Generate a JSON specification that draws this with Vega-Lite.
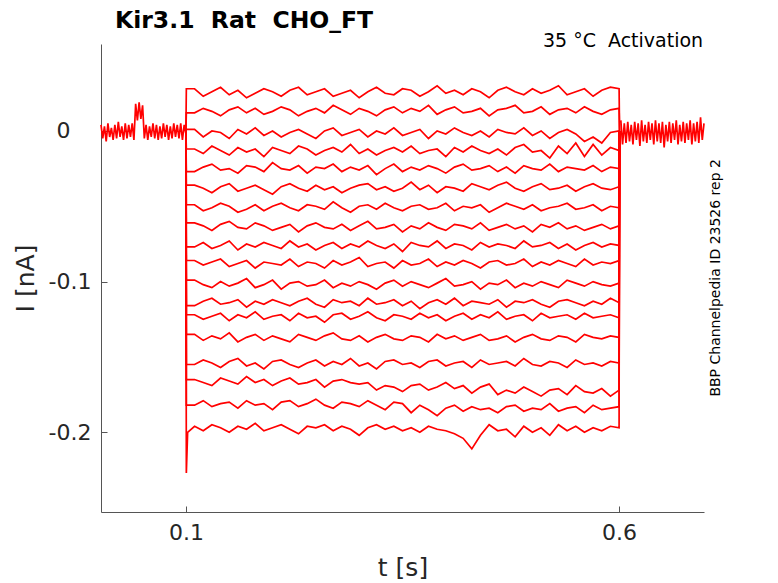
{
  "$schema": "https://vega.github.io/schema/vega-lite/v6.json",
  "description": "Kir3.1 Rat CHO_FT activation traces at 35 C, current (nA) against time (s).",
  "autosize": "none",
  "padding": {"left": 101, "top": 44, "right": 74, "bottom": 71},
  "width": 603,
  "height": 468,
  "title": {
    "text": "Kir3.1\u00a0 Rat\u00a0 CHO_FT",
    "anchor": "start",
    "frame": "group",
    "font": "DejaVu Sans",
    "fontSize": 23.5,
    "fontWeight": "bold",
    "color": "#000000",
    "baseline": "alphabetic",
    "offset": -19,
    "dx": 14
  },
  "datasets": {
    "notes": [
      {"label": "35 °C\u00a0 Activation", "t": 0.697, "i": 0.0557, "kind": "top"},
      {"label": "BBP Channelpedia ID 23526 rep 2", "t": 0.712, "i": -0.0975, "kind": "side"}
    ],
    "traces": [
      {"s":0,"t":0.002,"i":0.004},{"s":0,"t":0.004,"i":-0.005},{"s":0,"t":0.006,"i":0.003},{"s":0,"t":0.008,"i":-0.007},{"s":0,"t":0.01,"i":0.005},
      {"s":0,"t":0.012,"i":-0.004},{"s":0,"t":0.014,"i":0.002},{"s":0,"t":0.016,"i":-0.006},{"s":0,"t":0.018,"i":0.004},{"s":0,"t":0.02,"i":-0.005},
      {"s":0,"t":0.022,"i":0.006},{"s":0,"t":0.024,"i":-0.004},{"s":0,"t":0.026,"i":0.003},{"s":0,"t":0.028,"i":-0.006},{"s":0,"t":0.03,"i":0.005},
      {"s":0,"t":0.032,"i":-0.005},{"s":0,"t":0.034,"i":0.004},{"s":0,"t":0.036,"i":-0.004},{"s":0,"t":0.038,"i":0.005},{"s":0,"t":0.04,"i":-0.006},
      {"s":0,"t":0.042,"i":0.018},{"s":0,"t":0.044,"i":0.007},{"s":0,"t":0.046,"i":0.019},{"s":0,"t":0.048,"i":0.008},{"s":0,"t":0.05,"i":0.017},
      {"s":0,"t":0.052,"i":-0.005},{"s":0,"t":0.054,"i":0.004},{"s":0,"t":0.056,"i":-0.006},{"s":0,"t":0.058,"i":0.003},{"s":0,"t":0.06,"i":-0.004},
      {"s":0,"t":0.062,"i":0.005},{"s":0,"t":0.064,"i":-0.005},{"s":0,"t":0.066,"i":0.004},{"s":0,"t":0.068,"i":-0.006},{"s":0,"t":0.07,"i":0.003},
      {"s":0,"t":0.072,"i":-0.005},{"s":0,"t":0.074,"i":0.005},{"s":0,"t":0.076,"i":-0.004},{"s":0,"t":0.078,"i":0.004},{"s":0,"t":0.08,"i":-0.006},
      {"s":0,"t":0.082,"i":0.003},{"s":0,"t":0.084,"i":-0.005},{"s":0,"t":0.086,"i":0.005},{"s":0,"t":0.088,"i":-0.004},{"s":0,"t":0.09,"i":0.004},
      {"s":0,"t":0.092,"i":-0.005},{"s":0,"t":0.094,"i":0.005},{"s":0,"t":0.096,"i":-0.006},{"s":0,"t":0.098,"i":0.004},{"s":0,"t":0.1,"i":-0.002},

      {"s":19,"t":0.602,"i":0.007},{"s":19,"t":0.604,"i":-0.009},{"s":19,"t":0.606,"i":0.005},{"s":19,"t":0.608,"i":-0.008},{"s":19,"t":0.61,"i":0.006},
      {"s":19,"t":0.612,"i":-0.007},{"s":19,"t":0.614,"i":0.004},{"s":19,"t":0.616,"i":-0.009},{"s":19,"t":0.618,"i":0.006},{"s":19,"t":0.62,"i":-0.006},
      {"s":19,"t":0.622,"i":0.005},{"s":19,"t":0.624,"i":-0.01},{"s":19,"t":0.626,"i":0.007},{"s":19,"t":0.628,"i":-0.007},{"s":19,"t":0.63,"i":0.004},
      {"s":19,"t":0.632,"i":-0.008},{"s":19,"t":0.634,"i":0.006},{"s":19,"t":0.636,"i":-0.006},{"s":19,"t":0.638,"i":0.005},{"s":19,"t":0.64,"i":-0.009},
      {"s":19,"t":0.642,"i":0.007},{"s":19,"t":0.644,"i":-0.007},{"s":19,"t":0.646,"i":0.005},{"s":19,"t":0.648,"i":-0.008},{"s":19,"t":0.65,"i":0.006},
      {"s":19,"t":0.652,"i":-0.011},{"s":19,"t":0.654,"i":0.004},{"s":19,"t":0.656,"i":-0.007},{"s":19,"t":0.658,"i":0.006},{"s":19,"t":0.66,"i":-0.008},
      {"s":19,"t":0.662,"i":0.005},{"s":19,"t":0.664,"i":-0.006},{"s":19,"t":0.666,"i":0.007},{"s":19,"t":0.668,"i":-0.009},{"s":19,"t":0.67,"i":0.004},
      {"s":19,"t":0.672,"i":-0.007},{"s":19,"t":0.674,"i":0.006},{"s":19,"t":0.676,"i":-0.008},{"s":19,"t":0.678,"i":0.005},{"s":19,"t":0.68,"i":-0.006},
      {"s":19,"t":0.682,"i":0.007},{"s":19,"t":0.684,"i":-0.009},{"s":19,"t":0.686,"i":0.005},{"s":19,"t":0.688,"i":-0.007},{"s":19,"t":0.69,"i":0.006},
      {"s":19,"t":0.692,"i":-0.008},{"s":19,"t":0.694,"i":0.009},{"s":19,"t":0.696,"i":-0.006},{"s":19,"t":0.698,"i":0.005},

      {"s":1,"t":0.1,"i":0},{"s":1,"t":0.1005,"i":0.028},
      {"s":1,"t":0.11,"i":0.028},{"s":1,"t":0.12,"i":0.023},{"s":1,"t":0.13,"i":0.026},{"s":1,"t":0.14,"i":0.029},{"s":1,"t":0.15,"i":0.024},
      {"s":1,"t":0.16,"i":0.027},{"s":1,"t":0.17,"i":0.022},{"s":1,"t":0.18,"i":0.025},{"s":1,"t":0.19,"i":0.028},{"s":1,"t":0.2,"i":0.026},
      {"s":1,"t":0.21,"i":0.023},{"s":1,"t":0.22,"i":0.027},{"s":1,"t":0.23,"i":0.029},{"s":1,"t":0.24,"i":0.024},{"s":1,"t":0.25,"i":0.026},
      {"s":1,"t":0.26,"i":0.028},{"s":1,"t":0.27,"i":0.023},{"s":1,"t":0.28,"i":0.025},{"s":1,"t":0.29,"i":0.027},{"s":1,"t":0.3,"i":0.022},
      {"s":1,"t":0.31,"i":0.026},{"s":1,"t":0.32,"i":0.029},{"s":1,"t":0.33,"i":0.025},{"s":1,"t":0.34,"i":0.024},{"s":1,"t":0.35,"i":0.028},
      {"s":1,"t":0.36,"i":0.027},{"s":1,"t":0.37,"i":0.023},{"s":1,"t":0.38,"i":0.026},{"s":1,"t":0.39,"i":0.03},{"s":1,"t":0.4,"i":0.025},
      {"s":1,"t":0.41,"i":0.027},{"s":1,"t":0.42,"i":0.024},{"s":1,"t":0.43,"i":0.028},{"s":1,"t":0.44,"i":0.026},{"s":1,"t":0.45,"i":0.022},
      {"s":1,"t":0.46,"i":0.027},{"s":1,"t":0.47,"i":0.029},{"s":1,"t":0.48,"i":0.026},{"s":1,"t":0.49,"i":0.024},{"s":1,"t":0.5,"i":0.028},
      {"s":1,"t":0.51,"i":0.025},{"s":1,"t":0.52,"i":0.027},{"s":1,"t":0.53,"i":0.03},{"s":1,"t":0.54,"i":0.024},{"s":1,"t":0.55,"i":0.026},
      {"s":1,"t":0.56,"i":0.028},{"s":1,"t":0.57,"i":0.023},{"s":1,"t":0.58,"i":0.027},{"s":1,"t":0.59,"i":0.029},{"s":1,"t":0.6,"i":0.028},
      {"s":1,"t":0.6005,"i":0},

      {"s":2,"t":0.1,"i":0},{"s":2,"t":0.1005,"i":0.012},
      {"s":2,"t":0.11,"i":0.012},{"s":2,"t":0.12,"i":0.015},{"s":2,"t":0.13,"i":0.013},{"s":2,"t":0.14,"i":0.01},{"s":2,"t":0.15,"i":0.014},
      {"s":2,"t":0.16,"i":0.016},{"s":2,"t":0.17,"i":0.012},{"s":2,"t":0.18,"i":0.015},{"s":2,"t":0.19,"i":0.011},{"s":2,"t":0.2,"i":0.013},
      {"s":2,"t":0.21,"i":0.016},{"s":2,"t":0.22,"i":0.014},{"s":2,"t":0.23,"i":0.01},{"s":2,"t":0.24,"i":0.013},{"s":2,"t":0.25,"i":0.015},
      {"s":2,"t":0.26,"i":0.012},{"s":2,"t":0.27,"i":0.017},{"s":2,"t":0.28,"i":0.014},{"s":2,"t":0.29,"i":0.011},{"s":2,"t":0.3,"i":0.015},
      {"s":2,"t":0.31,"i":0.013},{"s":2,"t":0.32,"i":0.01},{"s":2,"t":0.33,"i":0.014},{"s":2,"t":0.34,"i":0.016},{"s":2,"t":0.35,"i":0.012},
      {"s":2,"t":0.36,"i":0.015},{"s":2,"t":0.37,"i":0.013},{"s":2,"t":0.38,"i":0.017},{"s":2,"t":0.39,"i":0.011},{"s":2,"t":0.4,"i":0.014},
      {"s":2,"t":0.41,"i":0.016},{"s":2,"t":0.42,"i":0.012},{"s":2,"t":0.43,"i":0.013},{"s":2,"t":0.44,"i":0.015},{"s":2,"t":0.45,"i":0.01},
      {"s":2,"t":0.46,"i":0.014},{"s":2,"t":0.47,"i":0.015},{"s":2,"t":0.48,"i":0.017},{"s":2,"t":0.49,"i":0.012},{"s":2,"t":0.5,"i":0.013},
      {"s":2,"t":0.51,"i":0.016},{"s":2,"t":0.52,"i":0.011},{"s":2,"t":0.53,"i":0.014},{"s":2,"t":0.54,"i":0.015},{"s":2,"t":0.55,"i":0.012},
      {"s":2,"t":0.56,"i":0.016},{"s":2,"t":0.57,"i":0.013},{"s":2,"t":0.58,"i":0.011},{"s":2,"t":0.59,"i":0.014},{"s":2,"t":0.6,"i":0.015},
      {"s":2,"t":0.6005,"i":0},

      {"s":3,"t":0.1,"i":0},{"s":3,"t":0.1005,"i":0.001},
      {"s":3,"t":0.11,"i":0.001},{"s":3,"t":0.12,"i":-0.004},{"s":3,"t":0.13,"i":0},{"s":3,"t":0.14,"i":-0.001},{"s":3,"t":0.15,"i":-0.005},
      {"s":3,"t":0.16,"i":0.001},{"s":3,"t":0.17,"i":-0.002},{"s":3,"t":0.18,"i":0.002},{"s":3,"t":0.19,"i":-0.003},{"s":3,"t":0.2,"i":0},
      {"s":3,"t":0.21,"i":-0.004},{"s":3,"t":0.22,"i":-0.001},{"s":3,"t":0.23,"i":0.001},{"s":3,"t":0.24,"i":-0.002},{"s":3,"t":0.25,"i":-0.005},
      {"s":3,"t":0.26,"i":0},{"s":3,"t":0.27,"i":0.002},{"s":3,"t":0.28,"i":-0.003},{"s":3,"t":0.29,"i":-0.001},{"s":3,"t":0.3,"i":0.001},
      {"s":3,"t":0.31,"i":-0.004},{"s":3,"t":0.32,"i":0},{"s":3,"t":0.33,"i":-0.002},{"s":3,"t":0.34,"i":0.002},{"s":3,"t":0.35,"i":-0.003},
      {"s":3,"t":0.36,"i":-0.001},{"s":3,"t":0.37,"i":0.001},{"s":3,"t":0.38,"i":-0.005},{"s":3,"t":0.39,"i":0},{"s":3,"t":0.4,"i":-0.002},
      {"s":3,"t":0.41,"i":0.002},{"s":3,"t":0.42,"i":-0.001},{"s":3,"t":0.43,"i":-0.003},{"s":3,"t":0.44,"i":0},{"s":3,"t":0.45,"i":-0.004},
      {"s":3,"t":0.46,"i":0.001},{"s":3,"t":0.47,"i":-0.001},{"s":3,"t":0.48,"i":-0.002},{"s":3,"t":0.49,"i":0.002},{"s":3,"t":0.5,"i":-0.003},
      {"s":3,"t":0.51,"i":0},{"s":3,"t":0.52,"i":-0.005},{"s":3,"t":0.53,"i":-0.001},{"s":3,"t":0.54,"i":0.001},{"s":3,"t":0.55,"i":-0.002},
      {"s":3,"t":0.56,"i":-0.007},{"s":3,"t":0.57,"i":-0.004},{"s":3,"t":0.58,"i":-0.008},{"s":3,"t":0.59,"i":-0.001},{"s":3,"t":0.6,"i":0},
      {"s":3,"t":0.6005,"i":0},

      {"s":4,"t":0.1,"i":0},{"s":4,"t":0.1005,"i":-0.012},
      {"s":4,"t":0.11,"i":-0.012},{"s":4,"t":0.12,"i":-0.015},{"s":4,"t":0.13,"i":-0.01},{"s":4,"t":0.14,"i":-0.013},{"s":4,"t":0.15,"i":-0.016},
      {"s":4,"t":0.16,"i":-0.011},{"s":4,"t":0.17,"i":-0.014},{"s":4,"t":0.18,"i":-0.012},{"s":4,"t":0.19,"i":-0.017},{"s":4,"t":0.2,"i":-0.011},
      {"s":4,"t":0.21,"i":-0.013},{"s":4,"t":0.22,"i":-0.015},{"s":4,"t":0.23,"i":-0.01},{"s":4,"t":0.24,"i":-0.012},{"s":4,"t":0.25,"i":-0.016},
      {"s":4,"t":0.26,"i":-0.013},{"s":4,"t":0.27,"i":-0.011},{"s":4,"t":0.28,"i":-0.014},{"s":4,"t":0.29,"i":-0.009},{"s":4,"t":0.3,"i":-0.015},
      {"s":4,"t":0.31,"i":-0.012},{"s":4,"t":0.32,"i":-0.016},{"s":4,"t":0.33,"i":-0.013},{"s":4,"t":0.34,"i":-0.011},{"s":4,"t":0.35,"i":-0.014},
      {"s":4,"t":0.36,"i":-0.01},{"s":4,"t":0.37,"i":-0.015},{"s":4,"t":0.38,"i":-0.013},{"s":4,"t":0.39,"i":-0.012},{"s":4,"t":0.4,"i":-0.017},
      {"s":4,"t":0.41,"i":-0.011},{"s":4,"t":0.42,"i":-0.014},{"s":4,"t":0.43,"i":-0.01},{"s":4,"t":0.44,"i":-0.013},{"s":4,"t":0.45,"i":-0.015},
      {"s":4,"t":0.46,"i":-0.012},{"s":4,"t":0.47,"i":-0.016},{"s":4,"t":0.48,"i":-0.011},{"s":4,"t":0.49,"i":-0.009},{"s":4,"t":0.5,"i":-0.014},
      {"s":4,"t":0.51,"i":-0.013},{"s":4,"t":0.52,"i":-0.018},{"s":4,"t":0.53,"i":-0.01},{"s":4,"t":0.54,"i":-0.015},{"s":4,"t":0.55,"i":-0.008},
      {"s":4,"t":0.56,"i":-0.017},{"s":4,"t":0.57,"i":-0.009},{"s":4,"t":0.58,"i":-0.016},{"s":4,"t":0.59,"i":-0.011},{"s":4,"t":0.6,"i":-0.013},
      {"s":4,"t":0.6005,"i":0},

      {"s":5,"t":0.1,"i":0},{"s":5,"t":0.1005,"i":-0.027},
      {"s":5,"t":0.11,"i":-0.027},{"s":5,"t":0.12,"i":-0.024},{"s":5,"t":0.13,"i":-0.022},{"s":5,"t":0.14,"i":-0.026},{"s":5,"t":0.15,"i":-0.025},
      {"s":5,"t":0.16,"i":-0.028},{"s":5,"t":0.17,"i":-0.023},{"s":5,"t":0.18,"i":-0.024},{"s":5,"t":0.19,"i":-0.027},{"s":5,"t":0.2,"i":-0.021},
      {"s":5,"t":0.21,"i":-0.025},{"s":5,"t":0.22,"i":-0.026},{"s":5,"t":0.23,"i":-0.023},{"s":5,"t":0.24,"i":-0.028},{"s":5,"t":0.25,"i":-0.024},
      {"s":5,"t":0.26,"i":-0.025},{"s":5,"t":0.27,"i":-0.022},{"s":5,"t":0.28,"i":-0.027},{"s":5,"t":0.29,"i":-0.024},{"s":5,"t":0.3,"i":-0.026},
      {"s":5,"t":0.31,"i":-0.023},{"s":5,"t":0.32,"i":-0.029},{"s":5,"t":0.33,"i":-0.025},{"s":5,"t":0.34,"i":-0.022},{"s":5,"t":0.35,"i":-0.027},
      {"s":5,"t":0.36,"i":-0.024},{"s":5,"t":0.37,"i":-0.026},{"s":5,"t":0.38,"i":-0.023},{"s":5,"t":0.39,"i":-0.025},{"s":5,"t":0.4,"i":-0.028},
      {"s":5,"t":0.41,"i":-0.024},{"s":5,"t":0.42,"i":-0.022},{"s":5,"t":0.43,"i":-0.026},{"s":5,"t":0.44,"i":-0.025},{"s":5,"t":0.45,"i":-0.023},
      {"s":5,"t":0.46,"i":-0.027},{"s":5,"t":0.47,"i":-0.024},{"s":5,"t":0.48,"i":-0.028},{"s":5,"t":0.49,"i":-0.023},{"s":5,"t":0.5,"i":-0.025},
      {"s":5,"t":0.51,"i":-0.026},{"s":5,"t":0.52,"i":-0.022},{"s":5,"t":0.53,"i":-0.027},{"s":5,"t":0.54,"i":-0.024},{"s":5,"t":0.55,"i":-0.025},
      {"s":5,"t":0.56,"i":-0.026},{"s":5,"t":0.57,"i":-0.023},{"s":5,"t":0.58,"i":-0.027},{"s":5,"t":0.59,"i":-0.024},{"s":5,"t":0.6,"i":-0.025},
      {"s":5,"t":0.6005,"i":0},

      {"s":6,"t":0.1,"i":0},{"s":6,"t":0.1005,"i":-0.036},
      {"s":6,"t":0.11,"i":-0.036},{"s":6,"t":0.12,"i":-0.038},{"s":6,"t":0.13,"i":-0.041},{"s":6,"t":0.14,"i":-0.037},{"s":6,"t":0.15,"i":-0.035},
      {"s":6,"t":0.16,"i":-0.04},{"s":6,"t":0.17,"i":-0.038},{"s":6,"t":0.18,"i":-0.036},{"s":6,"t":0.19,"i":-0.039},{"s":6,"t":0.2,"i":-0.042},
      {"s":6,"t":0.21,"i":-0.037},{"s":6,"t":0.22,"i":-0.035},{"s":6,"t":0.23,"i":-0.038},{"s":6,"t":0.24,"i":-0.04},{"s":6,"t":0.25,"i":-0.036},
      {"s":6,"t":0.26,"i":-0.039},{"s":6,"t":0.27,"i":-0.037},{"s":6,"t":0.28,"i":-0.041},{"s":6,"t":0.29,"i":-0.038},{"s":6,"t":0.3,"i":-0.036},
      {"s":6,"t":0.31,"i":-0.035},{"s":6,"t":0.32,"i":-0.039},{"s":6,"t":0.33,"i":-0.037},{"s":6,"t":0.34,"i":-0.04},{"s":6,"t":0.35,"i":-0.038},
      {"s":6,"t":0.36,"i":-0.034},{"s":6,"t":0.37,"i":-0.039},{"s":6,"t":0.38,"i":-0.036},{"s":6,"t":0.39,"i":-0.041},{"s":6,"t":0.4,"i":-0.037},
      {"s":6,"t":0.41,"i":-0.038},{"s":6,"t":0.42,"i":-0.04},{"s":6,"t":0.43,"i":-0.035},{"s":6,"t":0.44,"i":-0.037},{"s":6,"t":0.45,"i":-0.039},
      {"s":6,"t":0.46,"i":-0.036},{"s":6,"t":0.47,"i":-0.034},{"s":6,"t":0.48,"i":-0.038},{"s":6,"t":0.49,"i":-0.04},{"s":6,"t":0.5,"i":-0.037},
      {"s":6,"t":0.51,"i":-0.035},{"s":6,"t":0.52,"i":-0.039},{"s":6,"t":0.53,"i":-0.038},{"s":6,"t":0.54,"i":-0.036},{"s":6,"t":0.55,"i":-0.04},
      {"s":6,"t":0.56,"i":-0.037},{"s":6,"t":0.57,"i":-0.035},{"s":6,"t":0.58,"i":-0.038},{"s":6,"t":0.59,"i":-0.039},{"s":6,"t":0.6,"i":-0.037},
      {"s":6,"t":0.6005,"i":0},

      {"s":7,"t":0.1,"i":0},{"s":7,"t":0.1005,"i":-0.049},
      {"s":7,"t":0.11,"i":-0.049},{"s":7,"t":0.12,"i":-0.053},{"s":7,"t":0.13,"i":-0.051},{"s":7,"t":0.14,"i":-0.048},{"s":7,"t":0.15,"i":-0.05},
      {"s":7,"t":0.16,"i":-0.054},{"s":7,"t":0.17,"i":-0.052},{"s":7,"t":0.18,"i":-0.049},{"s":7,"t":0.19,"i":-0.053},{"s":7,"t":0.2,"i":-0.05},
      {"s":7,"t":0.21,"i":-0.048},{"s":7,"t":0.22,"i":-0.051},{"s":7,"t":0.23,"i":-0.053},{"s":7,"t":0.24,"i":-0.049},{"s":7,"t":0.25,"i":-0.05},
      {"s":7,"t":0.26,"i":-0.052},{"s":7,"t":0.27,"i":-0.047},{"s":7,"t":0.28,"i":-0.051},{"s":7,"t":0.29,"i":-0.054},{"s":7,"t":0.3,"i":-0.05},
      {"s":7,"t":0.31,"i":-0.049},{"s":7,"t":0.32,"i":-0.052},{"s":7,"t":0.33,"i":-0.048},{"s":7,"t":0.34,"i":-0.051},{"s":7,"t":0.35,"i":-0.053},
      {"s":7,"t":0.36,"i":-0.05},{"s":7,"t":0.37,"i":-0.049},{"s":7,"t":0.38,"i":-0.052},{"s":7,"t":0.39,"i":-0.051},{"s":7,"t":0.4,"i":-0.048},
      {"s":7,"t":0.41,"i":-0.053},{"s":7,"t":0.42,"i":-0.05},{"s":7,"t":0.43,"i":-0.051},{"s":7,"t":0.44,"i":-0.049},{"s":7,"t":0.45,"i":-0.054},
      {"s":7,"t":0.46,"i":-0.051},{"s":7,"t":0.47,"i":-0.048},{"s":7,"t":0.48,"i":-0.05},{"s":7,"t":0.49,"i":-0.052},{"s":7,"t":0.5,"i":-0.049},
      {"s":7,"t":0.51,"i":-0.053},{"s":7,"t":0.52,"i":-0.051},{"s":7,"t":0.53,"i":-0.05},{"s":7,"t":0.54,"i":-0.048},{"s":7,"t":0.55,"i":-0.052},
      {"s":7,"t":0.56,"i":-0.051},{"s":7,"t":0.57,"i":-0.049},{"s":7,"t":0.58,"i":-0.053},{"s":7,"t":0.59,"i":-0.05},{"s":7,"t":0.6,"i":-0.051},
      {"s":7,"t":0.6005,"i":0},

      {"s":8,"t":0.1,"i":0},{"s":8,"t":0.1005,"i":-0.061},
      {"s":8,"t":0.11,"i":-0.061},{"s":8,"t":0.12,"i":-0.063},{"s":8,"t":0.13,"i":-0.066},{"s":8,"t":0.14,"i":-0.062},{"s":8,"t":0.15,"i":-0.06},
      {"s":8,"t":0.16,"i":-0.064},{"s":8,"t":0.17,"i":-0.065},{"s":8,"t":0.18,"i":-0.061},{"s":8,"t":0.19,"i":-0.063},{"s":8,"t":0.2,"i":-0.066},
      {"s":8,"t":0.21,"i":-0.064},{"s":8,"t":0.22,"i":-0.062},{"s":8,"t":0.23,"i":-0.067},{"s":8,"t":0.24,"i":-0.063},{"s":8,"t":0.25,"i":-0.061},
      {"s":8,"t":0.26,"i":-0.064},{"s":8,"t":0.27,"i":-0.065},{"s":8,"t":0.28,"i":-0.062},{"s":8,"t":0.29,"i":-0.066},{"s":8,"t":0.3,"i":-0.063},
      {"s":8,"t":0.31,"i":-0.06},{"s":8,"t":0.32,"i":-0.065},{"s":8,"t":0.33,"i":-0.064},{"s":8,"t":0.34,"i":-0.062},{"s":8,"t":0.35,"i":-0.067},
      {"s":8,"t":0.36,"i":-0.063},{"s":8,"t":0.37,"i":-0.065},{"s":8,"t":0.38,"i":-0.061},{"s":8,"t":0.39,"i":-0.064},{"s":8,"t":0.4,"i":-0.066},
      {"s":8,"t":0.41,"i":-0.062},{"s":8,"t":0.42,"i":-0.063},{"s":8,"t":0.43,"i":-0.065},{"s":8,"t":0.44,"i":-0.061},{"s":8,"t":0.45,"i":-0.066},
      {"s":8,"t":0.46,"i":-0.064},{"s":8,"t":0.47,"i":-0.062},{"s":8,"t":0.48,"i":-0.065},{"s":8,"t":0.49,"i":-0.063},{"s":8,"t":0.5,"i":-0.067},
      {"s":8,"t":0.51,"i":-0.062},{"s":8,"t":0.52,"i":-0.064},{"s":8,"t":0.53,"i":-0.061},{"s":8,"t":0.54,"i":-0.065},{"s":8,"t":0.55,"i":-0.063},
      {"s":8,"t":0.56,"i":-0.066},{"s":8,"t":0.57,"i":-0.064},{"s":8,"t":0.58,"i":-0.062},{"s":8,"t":0.59,"i":-0.065},{"s":8,"t":0.6,"i":-0.063},
      {"s":8,"t":0.6005,"i":0},

      {"s":9,"t":0.1,"i":0},{"s":9,"t":0.1005,"i":-0.077},
      {"s":9,"t":0.11,"i":-0.077},{"s":9,"t":0.12,"i":-0.074},{"s":9,"t":0.13,"i":-0.078},{"s":9,"t":0.14,"i":-0.076},{"s":9,"t":0.15,"i":-0.073},
      {"s":9,"t":0.16,"i":-0.079},{"s":9,"t":0.17,"i":-0.075},{"s":9,"t":0.18,"i":-0.077},{"s":9,"t":0.19,"i":-0.074},{"s":9,"t":0.2,"i":-0.076},
      {"s":9,"t":0.21,"i":-0.078},{"s":9,"t":0.22,"i":-0.073},{"s":9,"t":0.23,"i":-0.077},{"s":9,"t":0.24,"i":-0.075},{"s":9,"t":0.25,"i":-0.079},
      {"s":9,"t":0.26,"i":-0.076},{"s":9,"t":0.27,"i":-0.074},{"s":9,"t":0.28,"i":-0.078},{"s":9,"t":0.29,"i":-0.075},{"s":9,"t":0.3,"i":-0.077},
      {"s":9,"t":0.31,"i":-0.073},{"s":9,"t":0.32,"i":-0.076},{"s":9,"t":0.33,"i":-0.078},{"s":9,"t":0.34,"i":-0.075},{"s":9,"t":0.35,"i":-0.08},
      {"s":9,"t":0.36,"i":-0.074},{"s":9,"t":0.37,"i":-0.076},{"s":9,"t":0.38,"i":-0.077},{"s":9,"t":0.39,"i":-0.073},{"s":9,"t":0.4,"i":-0.078},
      {"s":9,"t":0.41,"i":-0.075},{"s":9,"t":0.42,"i":-0.076},{"s":9,"t":0.43,"i":-0.079},{"s":9,"t":0.44,"i":-0.074},{"s":9,"t":0.45,"i":-0.077},
      {"s":9,"t":0.46,"i":-0.075},{"s":9,"t":0.47,"i":-0.076},{"s":9,"t":0.48,"i":-0.078},{"s":9,"t":0.49,"i":-0.073},{"s":9,"t":0.5,"i":-0.077},
      {"s":9,"t":0.51,"i":-0.076},{"s":9,"t":0.52,"i":-0.074},{"s":9,"t":0.53,"i":-0.078},{"s":9,"t":0.54,"i":-0.075},{"s":9,"t":0.55,"i":-0.079},
      {"s":9,"t":0.56,"i":-0.076},{"s":9,"t":0.57,"i":-0.074},{"s":9,"t":0.58,"i":-0.077},{"s":9,"t":0.59,"i":-0.075},{"s":9,"t":0.6,"i":-0.076},
      {"s":9,"t":0.6005,"i":0},

      {"s":10,"t":0.1,"i":0},{"s":10,"t":0.1005,"i":-0.086},
      {"s":10,"t":0.11,"i":-0.086},{"s":10,"t":0.12,"i":-0.089},{"s":10,"t":0.13,"i":-0.087},{"s":10,"t":0.14,"i":-0.085},{"s":10,"t":0.15,"i":-0.09},
      {"s":10,"t":0.16,"i":-0.088},{"s":10,"t":0.17,"i":-0.086},{"s":10,"t":0.18,"i":-0.091},{"s":10,"t":0.19,"i":-0.087},{"s":10,"t":0.2,"i":-0.088},
      {"s":10,"t":0.21,"i":-0.089},{"s":10,"t":0.22,"i":-0.085},{"s":10,"t":0.23,"i":-0.09},{"s":10,"t":0.24,"i":-0.087},{"s":10,"t":0.25,"i":-0.088},
      {"s":10,"t":0.26,"i":-0.091},{"s":10,"t":0.27,"i":-0.086},{"s":10,"t":0.28,"i":-0.089},{"s":10,"t":0.29,"i":-0.087},{"s":10,"t":0.3,"i":-0.084},
      {"s":10,"t":0.31,"i":-0.09},{"s":10,"t":0.32,"i":-0.088},{"s":10,"t":0.33,"i":-0.087},{"s":10,"t":0.34,"i":-0.091},{"s":10,"t":0.35,"i":-0.086},
      {"s":10,"t":0.36,"i":-0.089},{"s":10,"t":0.37,"i":-0.088},{"s":10,"t":0.38,"i":-0.085},{"s":10,"t":0.39,"i":-0.09},{"s":10,"t":0.4,"i":-0.087},
      {"s":10,"t":0.41,"i":-0.089},{"s":10,"t":0.42,"i":-0.086},{"s":10,"t":0.43,"i":-0.088},{"s":10,"t":0.44,"i":-0.091},{"s":10,"t":0.45,"i":-0.087},
      {"s":10,"t":0.46,"i":-0.086},{"s":10,"t":0.47,"i":-0.089},{"s":10,"t":0.48,"i":-0.088},{"s":10,"t":0.49,"i":-0.085},{"s":10,"t":0.5,"i":-0.09},
      {"s":10,"t":0.51,"i":-0.087},{"s":10,"t":0.52,"i":-0.089},{"s":10,"t":0.53,"i":-0.086},{"s":10,"t":0.54,"i":-0.088},{"s":10,"t":0.55,"i":-0.09},
      {"s":10,"t":0.56,"i":-0.085},{"s":10,"t":0.57,"i":-0.089},{"s":10,"t":0.58,"i":-0.087},{"s":10,"t":0.59,"i":-0.088},{"s":10,"t":0.6,"i":-0.086},
      {"s":10,"t":0.6005,"i":0},

      {"s":11,"t":0.1,"i":0},{"s":11,"t":0.1005,"i":-0.099},
      {"s":11,"t":0.11,"i":-0.099},{"s":11,"t":0.12,"i":-0.102},{"s":11,"t":0.13,"i":-0.104},{"s":11,"t":0.14,"i":-0.1},{"s":11,"t":0.15,"i":-0.103},
      {"s":11,"t":0.16,"i":-0.101},{"s":11,"t":0.17,"i":-0.098},{"s":11,"t":0.18,"i":-0.104},{"s":11,"t":0.19,"i":-0.102},{"s":11,"t":0.2,"i":-0.099},
      {"s":11,"t":0.21,"i":-0.105},{"s":11,"t":0.22,"i":-0.101},{"s":11,"t":0.23,"i":-0.1},{"s":11,"t":0.24,"i":-0.103},{"s":11,"t":0.25,"i":-0.102},
      {"s":11,"t":0.26,"i":-0.099},{"s":11,"t":0.27,"i":-0.104},{"s":11,"t":0.28,"i":-0.101},{"s":11,"t":0.29,"i":-0.103},{"s":11,"t":0.3,"i":-0.1},
      {"s":11,"t":0.31,"i":-0.102},{"s":11,"t":0.32,"i":-0.105},{"s":11,"t":0.33,"i":-0.101},{"s":11,"t":0.34,"i":-0.099},{"s":11,"t":0.35,"i":-0.103},
      {"s":11,"t":0.36,"i":-0.1},{"s":11,"t":0.37,"i":-0.102},{"s":11,"t":0.38,"i":-0.104},{"s":11,"t":0.39,"i":-0.101},{"s":11,"t":0.4,"i":-0.098},
      {"s":11,"t":0.41,"i":-0.103},{"s":11,"t":0.42,"i":-0.102},{"s":11,"t":0.43,"i":-0.1},{"s":11,"t":0.44,"i":-0.105},{"s":11,"t":0.45,"i":-0.101},
      {"s":11,"t":0.46,"i":-0.102},{"s":11,"t":0.47,"i":-0.099},{"s":11,"t":0.48,"i":-0.104},{"s":11,"t":0.49,"i":-0.101},{"s":11,"t":0.5,"i":-0.103},
      {"s":11,"t":0.51,"i":-0.1},{"s":11,"t":0.52,"i":-0.102},{"s":11,"t":0.53,"i":-0.104},{"s":11,"t":0.54,"i":-0.099},{"s":11,"t":0.55,"i":-0.101},
      {"s":11,"t":0.56,"i":-0.103},{"s":11,"t":0.57,"i":-0.1},{"s":11,"t":0.58,"i":-0.102},{"s":11,"t":0.59,"i":-0.103},{"s":11,"t":0.6,"i":-0.101},
      {"s":11,"t":0.6005,"i":0},

      {"s":12,"t":0.1,"i":0},{"s":12,"t":0.1005,"i":-0.116},
      {"s":12,"t":0.11,"i":-0.116},{"s":12,"t":0.12,"i":-0.113},{"s":12,"t":0.13,"i":-0.111},{"s":12,"t":0.14,"i":-0.115},{"s":12,"t":0.15,"i":-0.114},
      {"s":12,"t":0.16,"i":-0.112},{"s":12,"t":0.17,"i":-0.117},{"s":12,"t":0.18,"i":-0.113},{"s":12,"t":0.19,"i":-0.115},{"s":12,"t":0.2,"i":-0.112},
      {"s":12,"t":0.21,"i":-0.114},{"s":12,"t":0.22,"i":-0.116},{"s":12,"t":0.23,"i":-0.113},{"s":12,"t":0.24,"i":-0.111},{"s":12,"t":0.25,"i":-0.115},
      {"s":12,"t":0.26,"i":-0.117},{"s":12,"t":0.27,"i":-0.112},{"s":12,"t":0.28,"i":-0.114},{"s":12,"t":0.29,"i":-0.113},{"s":12,"t":0.3,"i":-0.116},
      {"s":12,"t":0.31,"i":-0.111},{"s":12,"t":0.32,"i":-0.115},{"s":12,"t":0.33,"i":-0.114},{"s":12,"t":0.34,"i":-0.112},{"s":12,"t":0.35,"i":-0.116},
      {"s":12,"t":0.36,"i":-0.113},{"s":12,"t":0.37,"i":-0.118},{"s":12,"t":0.38,"i":-0.114},{"s":12,"t":0.39,"i":-0.112},{"s":12,"t":0.4,"i":-0.115},
      {"s":12,"t":0.41,"i":-0.111},{"s":12,"t":0.42,"i":-0.116},{"s":12,"t":0.43,"i":-0.113},{"s":12,"t":0.44,"i":-0.114},{"s":12,"t":0.45,"i":-0.115},
      {"s":12,"t":0.46,"i":-0.112},{"s":12,"t":0.47,"i":-0.117},{"s":12,"t":0.48,"i":-0.113},{"s":12,"t":0.49,"i":-0.114},{"s":12,"t":0.5,"i":-0.112},
      {"s":12,"t":0.51,"i":-0.115},{"s":12,"t":0.52,"i":-0.117},{"s":12,"t":0.53,"i":-0.113},{"s":12,"t":0.54,"i":-0.112},{"s":12,"t":0.55,"i":-0.114},
      {"s":12,"t":0.56,"i":-0.116},{"s":12,"t":0.57,"i":-0.113},{"s":12,"t":0.58,"i":-0.115},{"s":12,"t":0.59,"i":-0.111},{"s":12,"t":0.6,"i":-0.114},
      {"s":12,"t":0.6005,"i":0},

      {"s":13,"t":0.1,"i":0},{"s":13,"t":0.1005,"i":-0.122},
      {"s":13,"t":0.11,"i":-0.122},{"s":13,"t":0.12,"i":-0.125},{"s":13,"t":0.13,"i":-0.123},{"s":13,"t":0.14,"i":-0.121},{"s":13,"t":0.15,"i":-0.126},
      {"s":13,"t":0.16,"i":-0.122},{"s":13,"t":0.17,"i":-0.124},{"s":13,"t":0.18,"i":-0.12},{"s":13,"t":0.19,"i":-0.125},{"s":13,"t":0.2,"i":-0.123},
      {"s":13,"t":0.21,"i":-0.122},{"s":13,"t":0.22,"i":-0.126},{"s":13,"t":0.23,"i":-0.121},{"s":13,"t":0.24,"i":-0.124},{"s":13,"t":0.25,"i":-0.123},
      {"s":13,"t":0.26,"i":-0.127},{"s":13,"t":0.27,"i":-0.122},{"s":13,"t":0.28,"i":-0.121},{"s":13,"t":0.29,"i":-0.125},{"s":13,"t":0.3,"i":-0.123},
      {"s":13,"t":0.31,"i":-0.12},{"s":13,"t":0.32,"i":-0.124},{"s":13,"t":0.33,"i":-0.126},{"s":13,"t":0.34,"i":-0.122},{"s":13,"t":0.35,"i":-0.123},
      {"s":13,"t":0.36,"i":-0.125},{"s":13,"t":0.37,"i":-0.121},{"s":13,"t":0.38,"i":-0.124},{"s":13,"t":0.39,"i":-0.122},{"s":13,"t":0.4,"i":-0.126},
      {"s":13,"t":0.41,"i":-0.123},{"s":13,"t":0.42,"i":-0.121},{"s":13,"t":0.43,"i":-0.125},{"s":13,"t":0.44,"i":-0.122},{"s":13,"t":0.45,"i":-0.124},
      {"s":13,"t":0.46,"i":-0.12},{"s":13,"t":0.47,"i":-0.125},{"s":13,"t":0.48,"i":-0.123},{"s":13,"t":0.49,"i":-0.122},{"s":13,"t":0.5,"i":-0.126},
      {"s":13,"t":0.51,"i":-0.121},{"s":13,"t":0.52,"i":-0.124},{"s":13,"t":0.53,"i":-0.123},{"s":13,"t":0.54,"i":-0.122},{"s":13,"t":0.55,"i":-0.125},
      {"s":13,"t":0.56,"i":-0.121},{"s":13,"t":0.57,"i":-0.124},{"s":13,"t":0.58,"i":-0.123},{"s":13,"t":0.59,"i":-0.122},{"s":13,"t":0.6,"i":-0.124},
      {"s":13,"t":0.6005,"i":0},

      {"s":14,"t":0.1,"i":0},{"s":14,"t":0.1005,"i":-0.135},
      {"s":14,"t":0.11,"i":-0.135},{"s":14,"t":0.12,"i":-0.139},{"s":14,"t":0.13,"i":-0.136},{"s":14,"t":0.14,"i":-0.138},{"s":14,"t":0.15,"i":-0.134},
      {"s":14,"t":0.16,"i":-0.14},{"s":14,"t":0.17,"i":-0.137},{"s":14,"t":0.18,"i":-0.135},{"s":14,"t":0.19,"i":-0.139},{"s":14,"t":0.2,"i":-0.136},
      {"s":14,"t":0.21,"i":-0.138},{"s":14,"t":0.22,"i":-0.14},{"s":14,"t":0.23,"i":-0.135},{"s":14,"t":0.24,"i":-0.137},{"s":14,"t":0.25,"i":-0.139},
      {"s":14,"t":0.26,"i":-0.136},{"s":14,"t":0.27,"i":-0.134},{"s":14,"t":0.28,"i":-0.138},{"s":14,"t":0.29,"i":-0.139},{"s":14,"t":0.3,"i":-0.136},
      {"s":14,"t":0.31,"i":-0.14},{"s":14,"t":0.32,"i":-0.137},{"s":14,"t":0.33,"i":-0.135},{"s":14,"t":0.34,"i":-0.138},{"s":14,"t":0.35,"i":-0.139},
      {"s":14,"t":0.36,"i":-0.136},{"s":14,"t":0.37,"i":-0.137},{"s":14,"t":0.38,"i":-0.14},{"s":14,"t":0.39,"i":-0.135},{"s":14,"t":0.4,"i":-0.138},
      {"s":14,"t":0.41,"i":-0.136},{"s":14,"t":0.42,"i":-0.139},{"s":14,"t":0.43,"i":-0.137},{"s":14,"t":0.44,"i":-0.135},{"s":14,"t":0.45,"i":-0.139},
      {"s":14,"t":0.46,"i":-0.138},{"s":14,"t":0.47,"i":-0.136},{"s":14,"t":0.48,"i":-0.14},{"s":14,"t":0.49,"i":-0.137},{"s":14,"t":0.5,"i":-0.135},
      {"s":14,"t":0.51,"i":-0.138},{"s":14,"t":0.52,"i":-0.139},{"s":14,"t":0.53,"i":-0.136},{"s":14,"t":0.54,"i":-0.137},{"s":14,"t":0.55,"i":-0.14},
      {"s":14,"t":0.56,"i":-0.135},{"s":14,"t":0.57,"i":-0.137},{"s":14,"t":0.58,"i":-0.138},{"s":14,"t":0.59,"i":-0.136},{"s":14,"t":0.6,"i":-0.137},
      {"s":14,"t":0.6005,"i":0},

      {"s":15,"t":0.1,"i":0},{"s":15,"t":0.1005,"i":-0.155},
      {"s":15,"t":0.11,"i":-0.155},{"s":15,"t":0.12,"i":-0.152},{"s":15,"t":0.13,"i":-0.154},{"s":15,"t":0.14,"i":-0.157},{"s":15,"t":0.15,"i":-0.153},
      {"s":15,"t":0.16,"i":-0.151},{"s":15,"t":0.17,"i":-0.156},{"s":15,"t":0.18,"i":-0.154},{"s":15,"t":0.19,"i":-0.158},{"s":15,"t":0.2,"i":-0.153},
      {"s":15,"t":0.21,"i":-0.152},{"s":15,"t":0.22,"i":-0.155},{"s":15,"t":0.23,"i":-0.157},{"s":15,"t":0.24,"i":-0.154},{"s":15,"t":0.25,"i":-0.152},
      {"s":15,"t":0.26,"i":-0.156},{"s":15,"t":0.27,"i":-0.153},{"s":15,"t":0.28,"i":-0.155},{"s":15,"t":0.29,"i":-0.151},{"s":15,"t":0.3,"i":-0.156},
      {"s":15,"t":0.31,"i":-0.154},{"s":15,"t":0.32,"i":-0.158},{"s":15,"t":0.33,"i":-0.153},{"s":15,"t":0.34,"i":-0.152},{"s":15,"t":0.35,"i":-0.155},
      {"s":15,"t":0.36,"i":-0.154},{"s":15,"t":0.37,"i":-0.157},{"s":15,"t":0.38,"i":-0.153},{"s":15,"t":0.39,"i":-0.152},{"s":15,"t":0.4,"i":-0.156},
      {"s":15,"t":0.41,"i":-0.154},{"s":15,"t":0.42,"i":-0.153},{"s":15,"t":0.43,"i":-0.157},{"s":15,"t":0.44,"i":-0.152},{"s":15,"t":0.45,"i":-0.155},
      {"s":15,"t":0.46,"i":-0.154},{"s":15,"t":0.47,"i":-0.153},{"s":15,"t":0.48,"i":-0.156},{"s":15,"t":0.49,"i":-0.151},{"s":15,"t":0.5,"i":-0.155},
      {"s":15,"t":0.51,"i":-0.156},{"s":15,"t":0.52,"i":-0.153},{"s":15,"t":0.53,"i":-0.154},{"s":15,"t":0.54,"i":-0.157},{"s":15,"t":0.55,"i":-0.152},
      {"s":15,"t":0.56,"i":-0.155},{"s":15,"t":0.57,"i":-0.154},{"s":15,"t":0.58,"i":-0.156},{"s":15,"t":0.59,"i":-0.153},{"s":15,"t":0.6,"i":-0.154},
      {"s":15,"t":0.6005,"i":0},

      {"s":16,"t":0.1,"i":0},{"s":16,"t":0.1005,"i":-0.165},
      {"s":16,"t":0.11,"i":-0.165},{"s":16,"t":0.12,"i":-0.167},{"s":16,"t":0.13,"i":-0.169},{"s":16,"t":0.14,"i":-0.164},{"s":16,"t":0.15,"i":-0.166},
      {"s":16,"t":0.16,"i":-0.168},{"s":16,"t":0.17,"i":-0.163},{"s":16,"t":0.18,"i":-0.167},{"s":16,"t":0.19,"i":-0.165},{"s":16,"t":0.2,"i":-0.169},
      {"s":16,"t":0.21,"i":-0.166},{"s":16,"t":0.22,"i":-0.164},{"s":16,"t":0.23,"i":-0.168},{"s":16,"t":0.24,"i":-0.167},{"s":16,"t":0.25,"i":-0.165},
      {"s":16,"t":0.26,"i":-0.17},{"s":16,"t":0.27,"i":-0.166},{"s":16,"t":0.28,"i":-0.165},{"s":16,"t":0.29,"i":-0.167},{"s":16,"t":0.3,"i":-0.168},
      {"s":16,"t":0.31,"i":-0.167},{"s":16,"t":0.32,"i":-0.172},{"s":16,"t":0.33,"i":-0.169},{"s":16,"t":0.34,"i":-0.17},{"s":16,"t":0.35,"i":-0.173},
      {"s":16,"t":0.36,"i":-0.169},{"s":16,"t":0.37,"i":-0.168},{"s":16,"t":0.38,"i":-0.172},{"s":16,"t":0.39,"i":-0.17},{"s":16,"t":0.4,"i":-0.167},
      {"s":16,"t":0.41,"i":-0.171},{"s":16,"t":0.42,"i":-0.169},{"s":16,"t":0.43,"i":-0.174},{"s":16,"t":0.44,"i":-0.17},{"s":16,"t":0.45,"i":-0.168},
      {"s":16,"t":0.46,"i":-0.175},{"s":16,"t":0.47,"i":-0.172},{"s":16,"t":0.48,"i":-0.174},{"s":16,"t":0.49,"i":-0.17},{"s":16,"t":0.5,"i":-0.173},
      {"s":16,"t":0.51,"i":-0.176},{"s":16,"t":0.52,"i":-0.172},{"s":16,"t":0.53,"i":-0.171},{"s":16,"t":0.54,"i":-0.175},{"s":16,"t":0.55,"i":-0.169},
      {"s":16,"t":0.56,"i":-0.173},{"s":16,"t":0.57,"i":-0.174},{"s":16,"t":0.58,"i":-0.171},{"s":16,"t":0.59,"i":-0.176},{"s":16,"t":0.6,"i":-0.172},
      {"s":16,"t":0.6005,"i":0},

      {"s":17,"t":0.1,"i":0},{"s":17,"t":0.1005,"i":-0.182},
      {"s":17,"t":0.11,"i":-0.182},{"s":17,"t":0.12,"i":-0.179},{"s":17,"t":0.13,"i":-0.183},{"s":17,"t":0.14,"i":-0.181},{"s":17,"t":0.15,"i":-0.18},
      {"s":17,"t":0.16,"i":-0.184},{"s":17,"t":0.17,"i":-0.179},{"s":17,"t":0.18,"i":-0.182},{"s":17,"t":0.19,"i":-0.181},{"s":17,"t":0.2,"i":-0.185},
      {"s":17,"t":0.21,"i":-0.18},{"s":17,"t":0.22,"i":-0.179},{"s":17,"t":0.23,"i":-0.183},{"s":17,"t":0.24,"i":-0.181},{"s":17,"t":0.25,"i":-0.178},
      {"s":17,"t":0.26,"i":-0.182},{"s":17,"t":0.27,"i":-0.184},{"s":17,"t":0.28,"i":-0.18},{"s":17,"t":0.29,"i":-0.181},{"s":17,"t":0.3,"i":-0.183},
      {"s":17,"t":0.31,"i":-0.179},{"s":17,"t":0.32,"i":-0.182},{"s":17,"t":0.33,"i":-0.185},{"s":17,"t":0.34,"i":-0.18},{"s":17,"t":0.35,"i":-0.181},
      {"s":17,"t":0.36,"i":-0.187},{"s":17,"t":0.37,"i":-0.182},{"s":17,"t":0.38,"i":-0.185},{"s":17,"t":0.39,"i":-0.189},{"s":17,"t":0.4,"i":-0.184},
      {"s":17,"t":0.41,"i":-0.182},{"s":17,"t":0.42,"i":-0.186},{"s":17,"t":0.43,"i":-0.183},{"s":17,"t":0.44,"i":-0.185},{"s":17,"t":0.45,"i":-0.184},
      {"s":17,"t":0.46,"i":-0.187},{"s":17,"t":0.47,"i":-0.183},{"s":17,"t":0.48,"i":-0.182},{"s":17,"t":0.49,"i":-0.186},{"s":17,"t":0.5,"i":-0.184},
      {"s":17,"t":0.51,"i":-0.185},{"s":17,"t":0.52,"i":-0.181},{"s":17,"t":0.53,"i":-0.186},{"s":17,"t":0.54,"i":-0.184},{"s":17,"t":0.55,"i":-0.183},
      {"s":17,"t":0.56,"i":-0.187},{"s":17,"t":0.57,"i":-0.182},{"s":17,"t":0.58,"i":-0.185},{"s":17,"t":0.59,"i":-0.184},{"s":17,"t":0.6,"i":-0.183},
      {"s":17,"t":0.6005,"i":0},

      {"s":18,"t":0.1,"i":0},{"s":18,"t":0.1005,"i":-0.227},{"s":18,"t":0.102,"i":-0.2},
      {"s":18,"t":0.11,"i":-0.196},{"s":18,"t":0.12,"i":-0.199},{"s":18,"t":0.13,"i":-0.195},{"s":18,"t":0.14,"i":-0.197},{"s":18,"t":0.15,"i":-0.2},
      {"s":18,"t":0.16,"i":-0.196},{"s":18,"t":0.17,"i":-0.198},{"s":18,"t":0.18,"i":-0.194},{"s":18,"t":0.19,"i":-0.199},{"s":18,"t":0.2,"i":-0.197},
      {"s":18,"t":0.21,"i":-0.195},{"s":18,"t":0.22,"i":-0.198},{"s":18,"t":0.23,"i":-0.201},{"s":18,"t":0.24,"i":-0.196},{"s":18,"t":0.25,"i":-0.197},
      {"s":18,"t":0.26,"i":-0.195},{"s":18,"t":0.27,"i":-0.199},{"s":18,"t":0.28,"i":-0.196},{"s":18,"t":0.29,"i":-0.198},{"s":18,"t":0.3,"i":-0.202},
      {"s":18,"t":0.31,"i":-0.197},{"s":18,"t":0.32,"i":-0.195},{"s":18,"t":0.33,"i":-0.198},{"s":18,"t":0.34,"i":-0.196},{"s":18,"t":0.35,"i":-0.199},
      {"s":18,"t":0.36,"i":-0.197},{"s":18,"t":0.37,"i":-0.2},{"s":18,"t":0.38,"i":-0.196},{"s":18,"t":0.39,"i":-0.198},{"s":18,"t":0.4,"i":-0.199},
      {"s":18,"t":0.41,"i":-0.201},{"s":18,"t":0.42,"i":-0.204},{"s":18,"t":0.43,"i":-0.211},{"s":18,"t":0.44,"i":-0.202},{"s":18,"t":0.45,"i":-0.195},
      {"s":18,"t":0.46,"i":-0.199},{"s":18,"t":0.47,"i":-0.198},{"s":18,"t":0.48,"i":-0.203},{"s":18,"t":0.49,"i":-0.196},{"s":18,"t":0.5,"i":-0.2},
      {"s":18,"t":0.51,"i":-0.197},{"s":18,"t":0.52,"i":-0.202},{"s":18,"t":0.53,"i":-0.195},{"s":18,"t":0.54,"i":-0.199},{"s":18,"t":0.55,"i":-0.196},
      {"s":18,"t":0.56,"i":-0.2},{"s":18,"t":0.57,"i":-0.197},{"s":18,"t":0.58,"i":-0.199},{"s":18,"t":0.59,"i":-0.196},{"s":18,"t":0.6,"i":-0.197},
      {"s":18,"t":0.6005,"i":0}
    ]
  },
  "encoding": {
    "x": {
      "field": "t",
      "type": "quantitative",
      "scale": {"domain": [0.002, 0.698], "nice": false, "zero": false},
      "axis": {
        "title": "t [s]",
        "values": [0.1, 0.6],
        "labelExpr": "format(datum.value, '.1f')",
        "grid": false,
        "tickSize": -6,
        "labelPadding": 16,
        "titlePadding": 12
      }
    },
    "y": {
      "field": "i",
      "type": "quantitative",
      "scale": {"domain": [-0.2529, 0.0577], "nice": false, "zero": false},
      "axis": {
        "title": "I [nA]",
        "values": [0, -0.1, -0.2],
        "labelExpr": "datum.value == 0 ? '0\u00a0\u00a0\u00a0\u200b' : '-' + format(-datum.value, '.1f')",
        "grid": false,
        "tickSize": -6,
        "labelPadding": 16,
        "titlePadding": 10
      }
    }
  },
  "layer": [
    {
      "data": {"name": "traces"},
      "mark": {"type": "line", "color": "#ff0000", "strokeWidth": 1.7},
      "encoding": {"detail": {"field": "s", "type": "nominal"}}
    },
    {
      "data": {"name": "notes"},
      "transform": [{"filter": "datum.kind == 'top'"}],
      "mark": {"type": "text", "align": "right", "baseline": "alphabetic", "fontSize": 19, "color": "#000000", "font": "DejaVu Sans"},
      "encoding": {"text": {"field": "label"}}
    },
    {
      "data": {"name": "notes"},
      "transform": [{"filter": "datum.kind == 'side'"}],
      "mark": {"type": "text", "align": "center", "baseline": "middle", "angle": 270, "fontSize": 14, "color": "#000000", "font": "DejaVu Sans"},
      "encoding": {"text": {"field": "label"}}
    }
  ],
  "config": {
    "font": "DejaVu Sans",
    "view": {"stroke": null},
    "axis": {
      "domainColor": "#555555",
      "tickColor": "#555555",
      "labelColor": "#262626",
      "labelFont": "DejaVu Sans",
      "labelFontSize": 22,
      "titleColor": "#262626",
      "titleFont": "DejaVu Sans",
      "titleFontSize": 25,
      "titleFontWeight": "normal"
    }
  }
}
